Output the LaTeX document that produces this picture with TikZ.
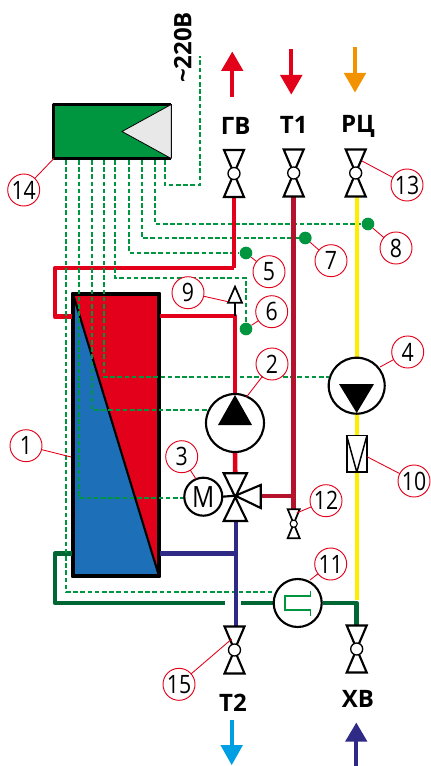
\documentclass[tikz,border=0pt]{standalone}
\usepackage{fontspec}
\setmainfont{PT Sans}
\newfontfamily\headfont{Open Sans}
\newfontfamily\tagfont{Open Sans}[FakeStretch=0.84]
\definecolor{sigcol}{HTML}{009640}
\definecolor{hotcol}{HTML}{E2001A}
\definecolor{t1col}{HTML}{B5122B}
\definecolor{bluecol}{HTML}{2E2A86}
\definecolor{tankblue}{HTML}{1D70B7}
\definecolor{darkgr}{HTML}{006633}
\definecolor{yelcol}{HTML}{FFED00}
\definecolor{orcol}{HTML}{F39200}
\definecolor{skycol}{HTML}{009FE3}
\definecolor{greytri}{HTML}{E8E8E8}
\tikzset{
  pipe/.style={line width=3.5pt,line join=round},
  sig/.style={draw=sigcol,line width=1.4pt,dash pattern=on 3.4pt off 2pt},
  tag/.style={circle,draw=hotcol,fill=white,line width=.7pt,minimum size=24pt,inner sep=0pt,outer sep=0pt,font=\tagfont\fontsize{19}{19}\selectfont},
  leader/.style={draw=hotcol,line width=.65pt},
  dot/.style={circle,fill=sigcol,minimum size=9.5pt,inner sep=0pt},
  device/.style={circle,draw=black,fill=white,line width=1.6pt,inner sep=0pt,outer sep=0pt},
  head/.style={font=\headfont\bfseries\fontsize{18}{18}\selectfont,inner sep=0pt},
  valveline/.style={draw=black,fill=white,line width=1.6pt,line join=miter},
  flowshaft/.style={line width=3pt},
  pics/valvepic/.style={code={
    \coordinate (-t) at (0,-23.5);
    \coordinate (-b) at (0,23.5);
    \draw[valveline] (-10,-23.5) -- (10,-23.5) -- (-10,23.5) -- (10,23.5) -- cycle;
    \node[circle,draw=black,fill=white,line width=1pt,minimum size=9pt,inner sep=0pt] (-c) at (0,0) {};
  }},
  pics/smallvalve/.style={code={
    \coordinate (-t) at (0,-14.5);
    \coordinate (-b) at (0,14.5);
    \draw[valveline,line width=1.3pt] (-6,-14.5) -- (6,-14.5) -- (-6,14.5) -- (6,14.5) -- cycle;
    \node[circle,draw=black,fill=white,line width=.8pt,minimum size=5.4pt,inner sep=0pt] (-c) at (0,0) {};
  }},
}
\begin{document}
\begin{tikzpicture}[x=.75pt,y=-.75pt]
\useasboundingbox (0,0) rectangle (430,766);

% junction and end points
\coordinate (c1) at (66,160);
\coordinate (c2) at (79,160);
\coordinate (c3) at (92,160);
\coordinate (c4) at (104,160);
\coordinate (c5) at (115,160);
\coordinate (c6) at (129,160);
\coordinate (c7) at (142,160);
\coordinate (c8) at (155,160);
\coordinate (c9) at (165,160);
\coordinate (mains) at (200,56);
\coordinate (sigM) at (184,498);
\coordinate (sigP2) at (207,410);
\coordinate (sigP4) at (329,377);
\coordinate (sig11) at (273,592);
\coordinate (hotL) at (72,316.7);
\coordinate (hotR) at (160,316);
\coordinate (hotTee) at (235,316);
\coordinate (coldL) at (72,553.7);
\coordinate (coldR) at (160,553.7);
\coordinate (gapL) at (225,603);
\coordinate (gapR) at (241,603);
\coordinate (t1tee) at (293.7,496);

% storage tank
\node[draw=black,fill=hotcol,line width=3.4pt,line join=round,minimum width=64.5pt,minimum height=211.5pt,inner sep=0pt,outer sep=0pt] (tank) at (116,435) {};
\fill[tankblue] (tank.north west) -- (tank.south east) -- (tank.south west) -- cycle;
\draw[line width=1.6pt] (tank.north west) -- (tank.south east);
\draw[line width=3.4pt,line join=round] (tank.north west) rectangle (tank.south east);

% pipes under the signal lines
\draw[pipe,hotcol] (hotL) -- (55,316.7) -- (55,268) -- (234,268);
\draw[pipe,darkgr] (coldL) -- (55,553.7) -- (55,603) -- (gapL);

% controller
\node[fill=sigcol,minimum width=88pt,minimum height=40.5pt,inner sep=0pt,outer sep=0pt] (ctrl) at (112.5,131.5) {};
\draw[line width=2.3pt,line join=round] (ctrl.north east) -- (ctrl.north west) -- (ctrl.south west) -- (ctrl.south east);
\draw[line width=1pt] (ctrl.north east) -- (ctrl.south east);
\draw[fill=greytri,line width=.6pt,line join=round] (ctrl.north east) -- (122,131.5) -- (ctrl.south east) -- cycle;

% sensors
\node[dot] (d8) at (368,224) {};
\node[dot] (d7) at (305.3,238) {};
\node[dot] (d5) at (246,253) {};
\node[dot] (d6) at (246,329) {};

% signal lines
\draw[sig] (c9) -- (165,185) -- (200,185) -- (mains);
\draw[sig] (c8) |- (d8);
\draw[sig] (c7) |- (d7);
\draw[sig] (c6) |- (d5);
\draw[sig] (c5) -- (115,278) -- (246,278) -- (d6);
\draw[sig] (c4) |- (sigP4);
\draw[sig] (c3) |- (sigP2);
\draw[sig] (c2) |- (sigM);
\draw[sig] (c1) |- (sig11);

% valve positions
\coordinate (vGV) at (234,173.5);
\coordinate (vT1) at (293.7,173);
\coordinate (vRC) at (355.7,173);
\coordinate (v15) at (234.5,650);
\coordinate (vXB) at (356.7,649);
\coordinate (v3) at (235.3,495.7);

% pipes over the signal lines
\draw[pipe,yelcol] (357,196) -- (357,600);
\draw[pipe,hotcol] (234,268) -- (234,196);
\draw[pipe,hotcol] (hotR) -- (hotTee) -- (235,400);
\draw[pipe,hotcol] (235,440) -- (v3);
\draw[pipe,t1col] (293.7,196) -- (t1tee) -- (293.7,510);
\draw[pipe,t1col] (t1tee) -- (258,496);
\draw[pipe,bluecol] (coldR) -- (235.7,553.7);
\draw[pipe,bluecol,line width=3.1pt] (235.7,518) -- (235.7,628);
\draw[pipe,darkgr] (gapR) -- (273,603);
\draw[pipe,darkgr] (323,603) -- (356.7,603) -- (356.7,627);

% safety valve 9
\coordinate (sv) at (235,286.7);
\draw[line width=1pt] (hotTee) -- (235,302);
\draw[valveline,line width=1.3pt] (sv) -- (242,302.7) -- (228,302.7) -- cycle;

% pumps
\node[device,minimum size=43.5pt] (p2) at (235,423) {};
\fill (235,395) -- (252,425) -- (218,425) -- cycle;
\node[device,minimum size=42pt] (p4) at (356.7,385.7) {};
\fill (339,384) -- (374,384) -- (356.7,413) -- cycle;

% check valve 10
\node[draw=black,fill=white,line width=1.3pt,minimum width=15.2pt,minimum height=27.5pt,inner sep=0pt,outer sep=0pt] (chk) at (356.8,453.8) {};
\draw[line width=1.1pt,line join=round] (chk.north west) -- (chk.south) -- (chk.north east);

% valves
\pic (GV) at (vGV) {valvepic};
\pic (T1) at (vT1) {valvepic};
\pic (RC) at (vRC) {valvepic};
\pic (V15) at (v15) {valvepic};
\pic (XB) at (vXB) {valvepic};
\pic (V12) at (293.7,523.7) {smallvalve};

% three-way valve and motor
\draw[valveline] (223.7,473.3) -- (246.9,473.3) -- (223.7,521) -- (246.9,521) -- cycle;
\draw[valveline,line join=miter] (v3) -- (260.7,485) -- (260.7,508) -- cycle;
\node[device,minimum size=28.5pt,font=\tagfont\fontsize{22}{22}\selectfont] (M) at (203.3,496.7) {M};
\draw[line width=1.6pt] (M.east) -- (v3);

% heat meter 11
\node[device,minimum size=36pt] (m11) at (297.7,603) {};
\draw[draw=sigcol,line width=1.1pt] (310.7,591) -- (310.7,596) -- (285,596) -- (285,610) -- (310.7,610) -- (310.7,616);

% flow arrows
\coordinate (aGV) at (232.3,97);
\draw[flowshaft,hotcol] (aGV) -- (232.3,70);
\fill[hotcol] (232.3,51.7) -- (243.5,71) -- (221,71) -- cycle;
\coordinate (aT1) at (291.3,49);
\draw[flowshaft,hotcol] (aT1) -- (291.3,76);
\fill[hotcol] (291.3,94.5) -- (302.5,75) -- (280,75) -- cycle;
\coordinate (aRC) at (355,47);
\draw[flowshaft,orcol] (aRC) -- (355,74);
\fill[orcol] (355,92.5) -- (366.2,73) -- (343.8,73) -- cycle;
\coordinate (aT2) at (231.7,719.7);
\draw[flowshaft,skycol] (aT2) -- (231.7,746);
\fill[skycol] (231.7,765) -- (243,745) -- (220.4,745) -- cycle;
\coordinate (aXB) at (356.3,766);
\draw[flowshaft,bluecol] (aXB) -- (356.3,741);
\fill[bluecol] (356.3,722.7) -- (367.5,741.7) -- (345,741.7) -- cycle;

% port names
\node[head] (tGV) at (235.7,125.7) {ГВ};
\node[head] (tT1) at (293.7,124.5) {Т1};
\node[head] (tRC) at (358,126.5) {РЦ};
\node[head] (tT2) at (233,702.7) {Т2};
\node[head] (tXB) at (358,699) {ХВ};
\node[head,rotate=90] (t220) at (182.7,47.5) {\textasciitilde220В};

% number tags
\node[tag] (n14) at (23.7,190) {14};
\node[tag] (n13) at (407,185) {13};
\node[tag] (n8) at (396,248) {8};
\node[tag] (n7) at (331,260.7) {7};
\node[tag] (n5) at (269,271.7) {5};
\node[tag] (n6) at (271.7,311.7) {6};
\node[tag] (n9) at (188,292.7) {9};
\node[tag] (n2) at (272,364) {2};
\node[tag] (n4) at (407.7,352) {4};
\node[tag] (n1) at (26,445.7) {1};
\node[tag] (n3) at (181.7,456.7) {3};
\node[tag] (n10) at (414,481) {10};
\node[tag] (n12) at (326,500.7) {12};
\node[tag] (n11) at (330.7,564) {11};
\node[tag] (n15) at (179,684.3) {15};

\coordinate (l13) at (362,161);
\coordinate (l9) at (228,301.7);
\coordinate (l2) at (246.7,396.7);
\coordinate (l4) at (380,367);
\coordinate (l1) at (71,457);
\coordinate (l3) at (196,479);
\coordinate (l10) at (367,456.7);
\coordinate (l12) at (296.7,513);
\coordinate (l11) at (310,580);
\coordinate (l15) at (231.7,639);
\draw[leader] (n14) -- (ctrl.south west);
\draw[leader] (n13) -- (l13);
\draw[leader] (n8) -- (d8);
\draw[leader] (n7) -- (d7);
\draw[leader] (n5) -- (d5);
\draw[leader] (n6) -- (d6);
\draw[leader] (n9) -- (l9);
\draw[leader] (n2) -- (l2);
\draw[leader] (n4) -- (l4);
\draw[leader] (n1) -- (l1);
\draw[leader] (n3) -- (l3);
\draw[leader] (n10) -- (l10);
\draw[leader] (n12) -- (l12);
\draw[leader] (n11) -- (l11);
\draw[leader] (n15) -- (l15);
\end{tikzpicture}
\end{document}
